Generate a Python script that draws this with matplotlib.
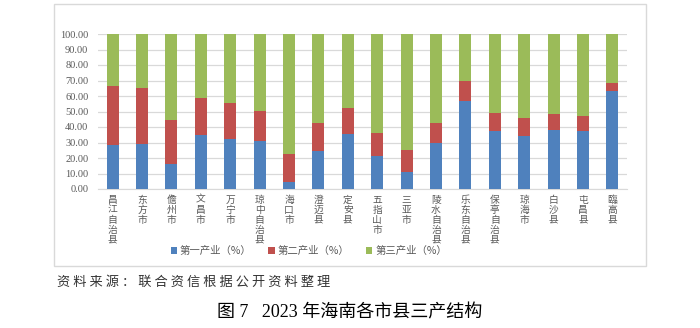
import matplotlib.pyplot as plt
import numpy as np
from matplotlib.patches import Patch, Rectangle

plt.rcParams['font.family'] = ['Liberation Serif', 'Noto Sans CJK SC', 'DejaVu Sans']

cities = ["昌江自治县", "东方市", "儋州市", "文昌市", "万宁市", "琼中自治县", "海口市",
          "澄迈县", "定安县", "五指山市", "三亚市", "陵水自治县", "乐东自治县",
          "保亭自治县", "琼海市", "白沙县", "屯昌县", "臨高县"]
# cumulative shares, converted to per-sector shares
primary = np.array([28.7, 29.3, 16.2, 34.9, 32.3, 30.8, 4.3, 24.8, 35.8, 21.6,
                    11.2, 29.5, 56.5, 37.3, 34.5, 37.9, 37.3, 63.1])
first_two = np.array([66.6, 65.1, 44.6, 58.8, 55.6, 50.2, 22.8, 42.9, 52.2, 36.0,
                      25.2, 42.9, 69.4, 48.9, 45.7, 48.1, 47.4, 68.1])
secondary = first_two - primary
tertiary = 100 - first_two
series_names = ["第一产业（%）", "第二产业（%）", "第三产业（%）"]
colors = ["#4F81BD", "#C0504D", "#9BBB59"]

fig = plt.figure(figsize=(7, 3.28), dpi=100)
ax = fig.add_axes([98/700, 1-189/328, 529/700, 155/328])

x = np.arange(len(cities))
w = 0.41
ax.bar(x, primary, w, color=colors[0], zorder=3)
ax.bar(x, secondary, w, bottom=primary, color=colors[1], zorder=3)
ax.bar(x, tertiary, w, bottom=first_two, color=colors[2], zorder=3)

ax.set_xlim(-0.5, len(cities) - 0.5)
ax.set_ylim(0, 100)
ax.set_yticks(np.arange(0, 101, 10))
ax.set_yticklabels([f"{v:.2f}" for v in np.arange(0, 101, 10)], fontsize=7.5, color="#595959")
ax.yaxis.grid(True, color="#D9D9D9", linewidth=0.9, zorder=0)
ax.tick_params(axis='y', length=0, pad=7)
ax.set_xticks(x)
ax.set_xticklabels(["\n".join(c) for c in cities], fontsize=7, color="#595959",
                   linespacing=1.0, va='top', family=['Noto Sans CJK SC'])
ax.tick_params(axis='x', length=0, pad=4)
for s in ['left', 'right', 'top']:
    ax.spines[s].set_visible(False)
ax.spines['bottom'].set_color("#D9D9D9")

handles = [Patch(facecolor=c, edgecolor='none') for c in colors]
fig.legend(handles, series_names, loc='center', bbox_to_anchor=(309/700, 1-251/328),
           ncol=3, frameon=False, fontsize=7.5, labelcolor="#595959",
           handlelength=0.6, handleheight=0.6, handletextpad=0.3, columnspacing=1.6,
           prop={'family': ['Noto Sans CJK SC'], 'size': 7.5})

fig.patches.append(Rectangle((54/700, 1-266/328), 592/700, 262/328, transform=fig.transFigure,
                             fill=False, edgecolor="#D9D9D9", linewidth=1.0))

fig.text(57/700, 1-282/328, " ".join("资料来源：联合资信根据公开资料整理"), fontsize=9.5,
         color="#333333", va='center', ha='left', family=['Noto Sans CJK SC'])
fig.text(350/700, 1-313/328, "图 7   2023 年海南各市县三产结构", fontsize=13,
         color="black", va='center', ha='center')

fig.savefig("out.png", dpi=100)
